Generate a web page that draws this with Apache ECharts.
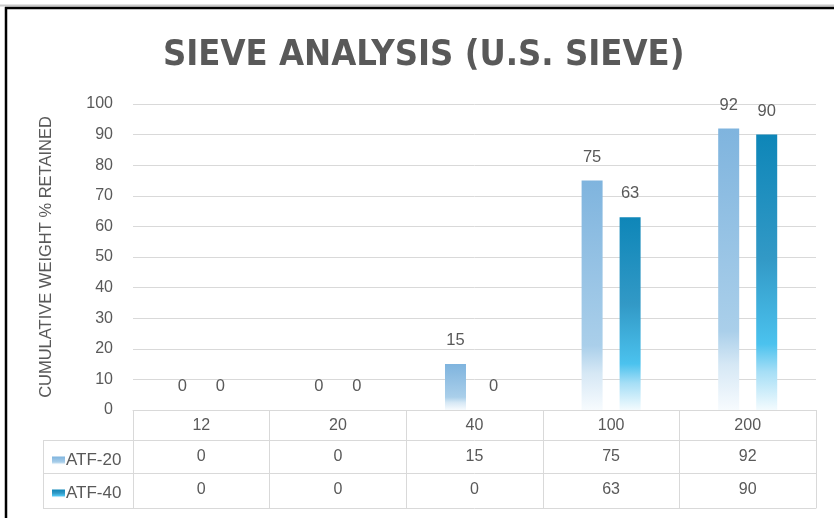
<!DOCTYPE html>
<html><head><meta charset="utf-8">
<script src="https://cdn.jsdelivr.net/npm/echarts@6/dist/echarts.min.js"></script>
<style>html,body{margin:0;padding:0;background:#fff}#c{width:834px;height:518px}</style>
</head><body><div id="c"></div>
<script>
const categories = ['12', '20', '40', '100', '200'];
const atf20 = [0, 0, 15, 75, 92];
const atf40 = [0, 0, 0, 63, 90];
const seriesNames = ['ATF-20', 'ATF-40'];
const yTicks = {min: 0, max: 100, interval: 10};

const txt = '#595959';
const lineC = '#d9d9d9';
const G = {left: 133, right: 18, top: 104, bottom: 108};
const W = 834, H = 518;
const gx0 = G.left, gx1 = W - G.right, gy = H - G.bottom;
const FONT = 'Liberation Sans';

const grad20 = new echarts.graphic.LinearGradient(0, 0, 0, 1, [
  {offset: 0, color: '#7fb4de'},
  {offset: 0.72, color: '#aacfea'},
  {offset: 0.84, color: '#d6e8f5'},
  {offset: 1, color: '#f7fbfe'}
]);
const grad40 = new echarts.graphic.LinearGradient(0, 0, 0, 1, [
  {offset: 0, color: '#0e86b8'},
  {offset: 0.45, color: '#3299c6'},
  {offset: 0.76, color: '#4bc2ee'},
  {offset: 0.86, color: '#a5def6'},
  {offset: 1, color: '#f3fbfe'}
]);

function valueAxis(data, offset) {
  return {
    type: 'category', data: categories, gridIndex: 0, position: 'bottom', offset: offset,
    axisLine: {show: true, lineStyle: {color: lineC, width: 1}},
    axisTick: {show: false},
    axisLabel: {show: !!data, margin: 9, color: txt, fontSize: 16, fontFamily: FONT,
      formatter: (v, i) => data ? String(data[i]) : ''}
  };
}

const chart = echarts.init(document.getElementById('c'), null, {renderer: 'canvas'});
chart.setOption({
  animation: false,
  backgroundColor: '#fff',
  title: {
    text: 'SIEVE ANALYSIS (U.S. SIEVE)', left: 158, top: 33,
    textStyle: {color: txt, fontSize: 36, fontWeight: 'bold', fontFamily: 'DejaVu Sans Condensed, sans-serif'}
  },
  legend: {
    data: seriesNames, orient: 'vertical', left: 47, top: 447, itemGap: 16,
    itemWidth: 13, itemHeight: 8, selectedMode: false, icon: 'rect', itemStyle: {borderWidth: 0},
    textStyle: {color: txt, fontSize: 17, fontFamily: FONT, padding: [0, 0, 0, -4]}
  },
  grid: G,
  xAxis: [
    {
      type: 'category', data: categories, position: 'bottom',
      axisLine: {show: true, lineStyle: {color: lineC, width: 1}},
      axisTick: {show: true, interval: 0, alignWithLabel: false, length: 98, lineStyle: {color: lineC, width: 1}},
      axisLabel: {margin: 8, color: txt, fontSize: 16, fontFamily: FONT}
    },
    valueAxis(atf20, 30),
    valueAxis(atf40, 63),
    valueAxis(null, 98)
  ],
  yAxis: {
    type: 'value', min: yTicks.min, max: yTicks.max, interval: yTicks.interval,
    name: 'CUMULATIVE WEIGHT % RETAINED', nameLocation: 'middle', nameGap: 78, nameRotate: 90,
    nameTextStyle: {color: txt, fontSize: 16.5, fontFamily: FONT},
    axisLine: {show: false}, axisTick: {show: false},
    axisLabel: {color: txt, fontSize: 16, margin: 20, fontFamily: FONT},
    splitLine: {lineStyle: {color: lineC, width: 1}}
  },
  series: [
    {name: seriesNames[0], type: 'bar', data: atf20, barWidth: 21, barGap: '81%', itemStyle: {color: grad20},
      label: {show: true, position: 'top', distance: 15, color: txt, fontSize: 16.5, fontFamily: FONT}},
    {name: seriesNames[1], type: 'bar', data: atf40, barWidth: 21, itemStyle: {color: grad40},
      label: {show: true, position: 'top', distance: 15, color: txt, fontSize: 16.5, fontFamily: FONT}}
  ],
  graphic: [
    {type: 'line', shape: {x1: 0, y1: 5.5, x2: W, y2: 5.5}, style: {stroke: '#c8c8c8', lineWidth: 2}, silent: true},
    {type: 'line', shape: {x1: 5, y1: 8, x2: W, y2: 8}, style: {stroke: '#000', lineWidth: 2.5}, silent: true},
    {type: 'line', shape: {x1: 6, y1: 7, x2: 6, y2: H}, style: {stroke: '#000', lineWidth: 2.5}, silent: true},
    {type: 'line', shape: {x1: 43, y1: gy + 30.5, x2: gx0, y2: gy + 30.5}, style: {stroke: lineC, lineWidth: 1}, silent: true},
    {type: 'line', shape: {x1: 43, y1: gy + 63.5, x2: gx0, y2: gy + 63.5}, style: {stroke: lineC, lineWidth: 1}, silent: true},
    {type: 'line', shape: {x1: 43, y1: gy + 98.5, x2: gx0, y2: gy + 98.5}, style: {stroke: lineC, lineWidth: 1}, silent: true},
    {type: 'line', shape: {x1: 43.5, y1: gy + 30, x2: 43.5, y2: gy + 98.5}, style: {stroke: lineC, lineWidth: 1}, silent: true}
  ]
});
</script></body></html>
